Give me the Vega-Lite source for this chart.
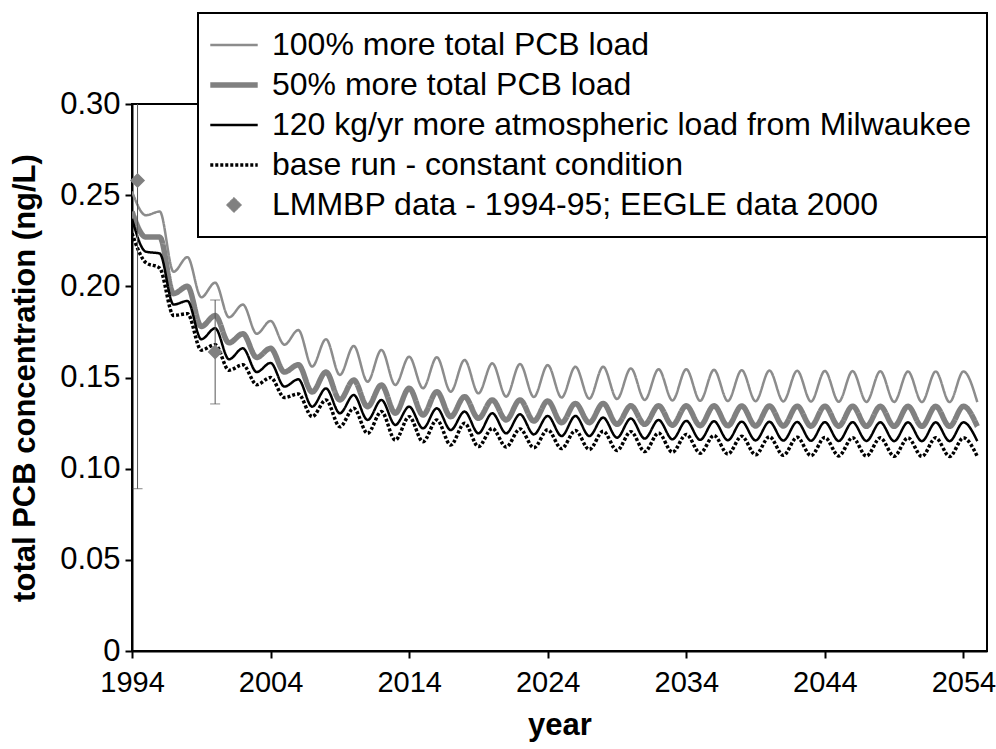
{
  "$schema": "https://vega.github.io/schema/vega-lite/v6.json",
  "width": 855,
  "height": 547,
  "padding": {"left": 132, "top": 104, "right": 9, "bottom": 98},
  "autosize": {"type": "none"},
  "background": "white",
  "config": {
    "font": "Liberation Sans",
    "view": {"stroke": "black", "strokeWidth": 2},
    "axis": {
      "grid": false,
      "domainColor": "black",
      "domainWidth": 2,
      "tickColor": "black",
      "tickWidth": 2,
      "tickSize": 7,
      "labelFont": "Liberation Sans",
      "labelColor": "black",
      "titleFont": "Liberation Sans",
      "titleFontSize": 31,
      "titleFontWeight": "bold",
      "titleColor": "black"
    },
    "legend": {
      "labelFont": "Liberation Sans",
      "labelFontSize": 32,
      "labelColor": "black",
      "labelLimit": 0,
      "symbolSize": 250,
      "rowPadding": 8,
      "padding": 16
    }
  },
  "datasets": {
    "runs": [
      {"year": 1994, "100% more total PCB load": 0.252, "50% more total PCB load": 0.241, "120 kg/yr more atmospheric load from Milwaukee": 0.237, "base run - constant condition": 0.229},
      {"year": 1995, "100% more total PCB load": 0.239, "50% more total PCB load": 0.227, "120 kg/yr more atmospheric load from Milwaukee": 0.219, "base run - constant condition": 0.213},
      {"year": 1996, "100% more total PCB load": 0.241, "50% more total PCB load": 0.227, "120 kg/yr more atmospheric load from Milwaukee": 0.218, "base run - constant condition": 0.210},
      {"year": 1997, "100% more total PCB load": 0.208, "50% more total PCB load": 0.196, "120 kg/yr more atmospheric load from Milwaukee": 0.190, "base run - constant condition": 0.184},
      {"year": 1998, "100% more total PCB load": 0.216, "50% more total PCB load": 0.200, "120 kg/yr more atmospheric load from Milwaukee": 0.192, "base run - constant condition": 0.185},
      {"year": 1999, "100% more total PCB load": 0.194, "50% more total PCB load": 0.178, "120 kg/yr more atmospheric load from Milwaukee": 0.171, "base run - constant condition": 0.165},
      {"year": 2000, "100% more total PCB load": 0.202, "50% more total PCB load": 0.184, "120 kg/yr more atmospheric load from Milwaukee": 0.177, "base run - constant condition": 0.168},
      {"year": 2001, "100% more total PCB load": 0.183, "50% more total PCB load": 0.169, "120 kg/yr more atmospheric load from Milwaukee": 0.160, "base run - constant condition": 0.154},
      {"year": 2002, "100% more total PCB load": 0.190, "50% more total PCB load": 0.174, "120 kg/yr more atmospheric load from Milwaukee": 0.166, "base run - constant condition": 0.157},
      {"year": 2003, "100% more total PCB load": 0.174, "50% more total PCB load": 0.161, "120 kg/yr more atmospheric load from Milwaukee": 0.153, "base run - constant condition": 0.146},
      {"year": 2004, "100% more total PCB load": 0.181, "50% more total PCB load": 0.166, "120 kg/yr more atmospheric load from Milwaukee": 0.158, "base run - constant condition": 0.150},
      {"year": 2005, "100% more total PCB load": 0.168, "50% more total PCB load": 0.153, "120 kg/yr more atmospheric load from Milwaukee": 0.145, "base run - constant condition": 0.139},
      {"year": 2006, "100% more total PCB load": 0.176, "50% more total PCB load": 0.157, "120 kg/yr more atmospheric load from Milwaukee": 0.149, "base run - constant condition": 0.141},
      {"year": 2007, "100% more total PCB load": 0.156, "50% more total PCB load": 0.142, "120 kg/yr more atmospheric load from Milwaukee": 0.134, "base run - constant condition": 0.1285},
      {"year": 2008, "100% more total PCB load": 0.171, "50% more total PCB load": 0.153, "120 kg/yr more atmospheric load from Milwaukee": 0.144, "base run - constant condition": 0.1377},
      {"year": 2009, "100% more total PCB load": 0.1514, "50% more total PCB load": 0.1377, "120 kg/yr more atmospheric load from Milwaukee": 0.1304, "base run - constant condition": 0.1230},
      {"year": 2010, "100% more total PCB load": 0.1673, "50% more total PCB load": 0.1486, "120 kg/yr more atmospheric load from Milwaukee": 0.1404, "base run - constant condition": 0.1331},
      {"year": 2011, "100% more total PCB load": 0.1477, "50% more total PCB load": 0.1340, "120 kg/yr more atmospheric load from Milwaukee": 0.1267, "base run - constant condition": 0.1194},
      {"year": 2012, "100% more total PCB load": 0.1651, "50% more total PCB load": 0.1459, "120 kg/yr more atmospheric load from Milwaukee": 0.1377, "base run - constant condition": 0.1313},
      {"year": 2013, "100% more total PCB load": 0.1459, "50% more total PCB load": 0.1304, "120 kg/yr more atmospheric load from Milwaukee": 0.1240, "base run - constant condition": 0.1157},
      {"year": 2014, "100% more total PCB load": 0.1614, "50% more total PCB load": 0.1441, "120 kg/yr more atmospheric load from Milwaukee": 0.1340, "base run - constant condition": 0.1285},
      {"year": 2015, "100% more total PCB load": 0.1441, "50% more total PCB load": 0.1294, "120 kg/yr more atmospheric load from Milwaukee": 0.1221, "base run - constant condition": 0.1148},
      {"year": 2016, "100% more total PCB load": 0.1611, "50% more total PCB load": 0.1422, "120 kg/yr more atmospheric load from Milwaukee": 0.1331, "base run - constant condition": 0.1267},
      {"year": 2017, "100% more total PCB load": 0.1422, "50% more total PCB load": 0.1285, "120 kg/yr more atmospheric load from Milwaukee": 0.1212, "base run - constant condition": 0.1130},
      {"year": 2018, "100% more total PCB load": 0.1596, "50% more total PCB load": 0.1395, "120 kg/yr more atmospheric load from Milwaukee": 0.1313, "base run - constant condition": 0.1249},
      {"year": 2019, "100% more total PCB load": 0.1413, "50% more total PCB load": 0.1276, "120 kg/yr more atmospheric load from Milwaukee": 0.1194, "base run - constant condition": 0.1121},
      {"year": 2020, "100% more total PCB load": 0.1578, "50% more total PCB load": 0.1377, "120 kg/yr more atmospheric load from Milwaukee": 0.1304, "base run - constant condition": 0.1221},
      {"year": 2021, "100% more total PCB load": 0.1395, "50% more total PCB load": 0.1267, "120 kg/yr more atmospheric load from Milwaukee": 0.1194, "base run - constant condition": 0.1119},
      {"year": 2022, "100% more total PCB load": 0.1574, "50% more total PCB load": 0.1377, "120 kg/yr more atmospheric load from Milwaukee": 0.1298, "base run - constant condition": 0.1218},
      {"year": 2023, "100% more total PCB load": 0.1393, "50% more total PCB load": 0.1261, "120 kg/yr more atmospheric load from Milwaukee": 0.1188, "base run - constant condition": 0.1115},
      {"year": 2024, "100% more total PCB load": 0.1568, "50% more total PCB load": 0.1371, "120 kg/yr more atmospheric load from Milwaukee": 0.1289, "base run - constant condition": 0.1213},
      {"year": 2025, "100% more total PCB load": 0.1390, "50% more total PCB load": 0.1252, "120 kg/yr more atmospheric load from Milwaukee": 0.1179, "base run - constant condition": 0.1110},
      {"year": 2026, "100% more total PCB load": 0.1559, "50% more total PCB load": 0.1358, "120 kg/yr more atmospheric load from Milwaukee": 0.1289, "base run - constant condition": 0.1209},
      {"year": 2027, "100% more total PCB load": 0.1384, "50% more total PCB load": 0.1252, "120 kg/yr more atmospheric load from Milwaukee": 0.1179, "base run - constant condition": 0.1105},
      {"year": 2028, "100% more total PCB load": 0.1559, "50% more total PCB load": 0.1358, "120 kg/yr more atmospheric load from Milwaukee": 0.1280, "base run - constant condition": 0.1205},
      {"year": 2029, "100% more total PCB load": 0.1382, "50% more total PCB load": 0.1243, "120 kg/yr more atmospheric load from Milwaukee": 0.1170, "base run - constant condition": 0.1100},
      {"year": 2030, "100% more total PCB load": 0.1550, "50% more total PCB load": 0.1345, "120 kg/yr more atmospheric load from Milwaukee": 0.1275, "base run - constant condition": 0.1203},
      {"year": 2031, "100% more total PCB load": 0.1377, "50% more total PCB load": 0.1243, "120 kg/yr more atmospheric load from Milwaukee": 0.1165, "base run - constant condition": 0.1094},
      {"year": 2032, "100% more total PCB load": 0.1545, "50% more total PCB load": 0.1345, "120 kg/yr more atmospheric load from Milwaukee": 0.1267, "base run - constant condition": 0.1195},
      {"year": 2033, "100% more total PCB load": 0.1374, "50% more total PCB load": 0.1238, "120 kg/yr more atmospheric load from Milwaukee": 0.1161, "base run - constant condition": 0.1090},
      {"year": 2034, "100% more total PCB load": 0.1545, "50% more total PCB load": 0.1345, "120 kg/yr more atmospheric load from Milwaukee": 0.1262, "base run - constant condition": 0.1188},
      {"year": 2035, "100% more total PCB load": 0.1372, "50% more total PCB load": 0.1236, "120 kg/yr more atmospheric load from Milwaukee": 0.1158, "base run - constant condition": 0.1085},
      {"year": 2036, "100% more total PCB load": 0.1542, "50% more total PCB load": 0.1345, "120 kg/yr more atmospheric load from Milwaukee": 0.1260, "base run - constant condition": 0.1182},
      {"year": 2037, "100% more total PCB load": 0.1371, "50% more total PCB load": 0.1235, "120 kg/yr more atmospheric load from Milwaukee": 0.1156, "base run - constant condition": 0.1080},
      {"year": 2038, "100% more total PCB load": 0.1540, "50% more total PCB load": 0.1344, "120 kg/yr more atmospheric load from Milwaukee": 0.1258, "base run - constant condition": 0.1178},
      {"year": 2039, "100% more total PCB load": 0.1370, "50% more total PCB load": 0.1234, "120 kg/yr more atmospheric load from Milwaukee": 0.1155, "base run - constant condition": 0.1076},
      {"year": 2040, "100% more total PCB load": 0.1538, "50% more total PCB load": 0.1344, "120 kg/yr more atmospheric load from Milwaukee": 0.1257, "base run - constant condition": 0.1175},
      {"year": 2041, "100% more total PCB load": 0.1369, "50% more total PCB load": 0.1234, "120 kg/yr more atmospheric load from Milwaukee": 0.1154, "base run - constant condition": 0.1073},
      {"year": 2042, "100% more total PCB load": 0.1537, "50% more total PCB load": 0.1343, "120 kg/yr more atmospheric load from Milwaukee": 0.1256, "base run - constant condition": 0.1172},
      {"year": 2043, "100% more total PCB load": 0.1368, "50% more total PCB load": 0.1233, "120 kg/yr more atmospheric load from Milwaukee": 0.1153, "base run - constant condition": 0.1071},
      {"year": 2044, "100% more total PCB load": 0.1536, "50% more total PCB load": 0.1343, "120 kg/yr more atmospheric load from Milwaukee": 0.1255, "base run - constant condition": 0.1171},
      {"year": 2045, "100% more total PCB load": 0.1367, "50% more total PCB load": 0.1233, "120 kg/yr more atmospheric load from Milwaukee": 0.1152, "base run - constant condition": 0.1070},
      {"year": 2046, "100% more total PCB load": 0.1535, "50% more total PCB load": 0.1343, "120 kg/yr more atmospheric load from Milwaukee": 0.1255, "base run - constant condition": 0.1170},
      {"year": 2047, "100% more total PCB load": 0.1366, "50% more total PCB load": 0.1232, "120 kg/yr more atmospheric load from Milwaukee": 0.1152, "base run - constant condition": 0.1069},
      {"year": 2048, "100% more total PCB load": 0.1534, "50% more total PCB load": 0.1342, "120 kg/yr more atmospheric load from Milwaukee": 0.1254, "base run - constant condition": 0.1169},
      {"year": 2049, "100% more total PCB load": 0.1366, "50% more total PCB load": 0.1232, "120 kg/yr more atmospheric load from Milwaukee": 0.1151, "base run - constant condition": 0.1068},
      {"year": 2050, "100% more total PCB load": 0.1533, "50% more total PCB load": 0.1342, "120 kg/yr more atmospheric load from Milwaukee": 0.1254, "base run - constant condition": 0.1169},
      {"year": 2051, "100% more total PCB load": 0.1365, "50% more total PCB load": 0.1232, "120 kg/yr more atmospheric load from Milwaukee": 0.1151, "base run - constant condition": 0.1067},
      {"year": 2052, "100% more total PCB load": 0.1533, "50% more total PCB load": 0.1342, "120 kg/yr more atmospheric load from Milwaukee": 0.1254, "base run - constant condition": 0.1169},
      {"year": 2053, "100% more total PCB load": 0.1365, "50% more total PCB load": 0.1232, "120 kg/yr more atmospheric load from Milwaukee": 0.1151, "base run - constant condition": 0.1067},
      {"year": 2054, "100% more total PCB load": 0.1533, "50% more total PCB load": 0.1342, "120 kg/yr more atmospheric load from Milwaukee": 0.1254, "base run - constant condition": 0.1169},
      {"year": 2055, "100% more total PCB load": 0.1365, "50% more total PCB load": 0.1232, "120 kg/yr more atmospheric load from Milwaukee": 0.1151, "base run - constant condition": 0.1067}
    ],
    "obs": [
      {"series": "LMMBP data - 1994-95; EEGLE data 2000", "year": 1994.4, "value": 0.258, "lo": 0.089, "hi": 0.427},
      {"series": "LMMBP data - 1994-95; EEGLE data 2000", "year": 2000.0, "value": 0.164, "lo": 0.1355, "hi": 0.1925}
    ]
  },
  "encoding": {
    "x": {
      "field": "year", "type": "quantitative",
      "scale": {"domain": [1994, 2055.7], "nice": false, "zero": false},
      "axis": {"values": [1994, 2004, 2014, 2024, 2034, 2044, 2054], "format": "d", "title": "year", "labelFontSize": 29, "labelPadding": 10, "titlePadding": 13, "labelFlush": false}
    }
  },
  "layer": [
    {
      "data": {"name": "runs"},
      "transform": [
        {"fold": ["100% more total PCB load", "50% more total PCB load", "120 kg/yr more atmospheric load from Milwaukee", "base run - constant condition"], "as": ["series", "value"]}
      ],
      "mark": {"type": "line", "interpolate": "monotone", "clip": true},
      "encoding": {
        "y": {
          "field": "value", "type": "quantitative",
          "scale": {"domain": [0, 0.3], "nice": false},
          "axis": {"values": [0, 0.05, 0.1, 0.15, 0.2, 0.25, 0.3], "labelExpr": "datum.value == 0 ? '0' : format(datum.value, '.2f')", "title": "total PCB concentration (ng/L)", "labelFontSize": 31, "labelPadding": 5, "titlePadding": 18}
        },
        "color": {
          "field": "series", "type": "nominal",
          "scale": {
            "domain": ["100% more total PCB load", "50% more total PCB load", "120 kg/yr more atmospheric load from Milwaukee", "base run - constant condition", "LMMBP data - 1994-95; EEGLE data 2000"],
            "range": ["#8c8c8c", "#808080", "#000000", "#000000", "#808080"]
          },
          "legend": {
            "title": null,
            "orient": "none",
            "legendX": 66,
            "legendY": -91,
            "labelOffset": 22,
            "symbolOffset": 4,
            "encode": {"legend": {"update": {"stroke": {"value": "black"}, "strokeWidth": {"value": 2}, "fill": {"value": "white"}}}}
          }
        },
        "strokeWidth": {
          "field": "series", "type": "nominal",
          "scale": {
            "type": "ordinal",
            "domain": ["100% more total PCB load", "50% more total PCB load", "120 kg/yr more atmospheric load from Milwaukee", "base run - constant condition", "LMMBP data - 1994-95; EEGLE data 2000"],
            "range": [2.5, 5.5, 2.5, 3.5, 1]
          },
          "legend": {"title": null}
        },
        "strokeDash": {
          "field": "series", "type": "nominal",
          "scale": {
            "domain": ["100% more total PCB load", "50% more total PCB load", "120 kg/yr more atmospheric load from Milwaukee", "base run - constant condition", "LMMBP data - 1994-95; EEGLE data 2000"],
            "range": [[1, 0], [1, 0], [1, 0], [3, 2], [1, 0]]
          },
          "legend": {"title": null}
        }
      }
    },
    {
      "data": {"name": "obs"},
      "mark": {"type": "rule", "color": "#555555", "strokeWidth": 1, "clip": true},
      "encoding": {
        "y": {"field": "lo", "type": "quantitative"},
        "y2": {"field": "hi"}
      }
    },
    {
      "data": {"name": "obs"},
      "mark": {"type": "tick", "orient": "horizontal", "color": "#555555", "thickness": 1, "size": 10, "clip": true},
      "encoding": {
        "y": {"field": "lo", "type": "quantitative"}
      }
    },
    {
      "data": {"name": "obs"},
      "mark": {"type": "tick", "orient": "horizontal", "color": "#555555", "thickness": 1, "size": 10, "clip": true},
      "encoding": {
        "y": {"field": "hi", "type": "quantitative"}
      }
    },
    {
      "data": {"name": "obs"},
      "mark": {"type": "point", "filled": true, "opacity": 1, "size": 250},
      "encoding": {
        "y": {"field": "value", "type": "quantitative"},
        "color": {"field": "series", "type": "nominal"},
        "shape": {
          "field": "series", "type": "nominal",
          "scale": {
            "domain": ["100% more total PCB load", "50% more total PCB load", "120 kg/yr more atmospheric load from Milwaukee", "base run - constant condition", "LMMBP data - 1994-95; EEGLE data 2000"],
            "range": ["M-3,0L3,0", "M-3,0L3,0", "M-3,0L3,0", "M-3,0L3,0", "M0,-0.95L0.95,0L0,0.95L-0.95,0Z"]
          },
          "legend": {"title": null}
        }
      }
    }
  ]
}
